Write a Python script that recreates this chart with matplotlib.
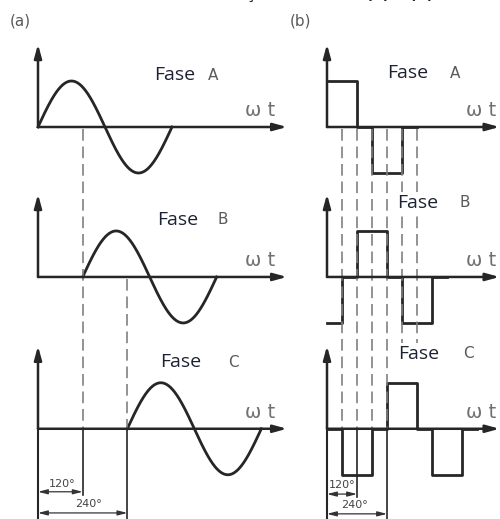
import numpy as np
import matplotlib
matplotlib.use("Agg")
import matplotlib.pyplot as plt

# fases e defasagem (graus)
fases = ["A", "B", "C"]
defasagem = [0, 120, 240]
# onda de seis pulsos da fase A, um nivel a cada 60 graus
seis_pulsos = [1, 1, 0, -1, -1, 0]
passo = 60
# cotas de defasagem
cotas = [120, 240]
cotas_txt = ["120°", "240°"]
# linhas tracejadas de referencia (graus)
tracos_a = [120, 240]
tracos_b = [60, 120, 180, 240, 300, 360]

# linha de base de cada fase (unidades de amplitude)
base = [0.0, -3.26, -6.56]
y_min, y_max = -392 / 46, 127 / 46

cor_linha = "#262626"
cor_traco = "#808080"
cor_txt = "#1c2233"
cor_cinza = "#5a5a5a"

fig = plt.figure(figsize=(5, 5.19), dpi=100)
ax_a = fig.add_axes([0, 0, 1, 1])
ax_b = fig.add_axes([0, 0, 1, 1])
ax_b.patch.set_alpha(0)

# escala horizontal: (a) 134 px por ciclo a partir de x=38, (b) 90 px por ciclo a partir de x=327
ax_a.set_xlim(-38 * 360 / 134, 462 * 360 / 134)
ax_b.set_xlim(-327 * 4, 173 * 4)
for ax in (ax_a, ax_b):
    ax.set_ylim(y_min, y_max)
    ax.axis("off")

seta = dict(arrowstyle="-|>,head_length=0.8,head_width=0.22", mutation_scale=10,
            lw=1.8, color=cor_linha, shrinkA=0, shrinkB=0)
seta_cota = dict(arrowstyle="<|-|>,head_length=0.7,head_width=0.18", mutation_scale=8,
                 lw=0.9, color="#333333", shrinkA=0, shrinkB=0)

def eixos(ax, y0, x_fim, ultimo):
    ax.annotate("", xy=(0, y0 + 1.8), xytext=(0, y0), arrowprops=seta)
    ax.annotate("", xy=(x_fim, y0), xytext=(0, y0), arrowprops=seta)
    if ultimo:
        ax.plot([0, 0], [y0, y_min], color=cor_linha, lw=1.5)

def tracejado(ax, x, y0, y1):
    ax.plot([x, x], [y0, y1], color=cor_traco, lw=1.2, ls=(0, (7, 3.5)))

# ---------- (a) alimentação senoidal ----------
pos_fase_a = [(311, 1.13), (320, 1.24), (328, 1.45)]
pos_letra_a = [470, 497, 524]
for i, (f, phi) in enumerate(zip(fases, defasagem)):
    y0 = base[i]
    eixos(ax_a, y0, 669, i == 2)
    th = np.linspace(phi, phi + 360, 300)
    ax_a.plot(th, y0 + np.sin(np.radians(th - phi)), color=cor_linha, lw=2)
    ax_a.text(pos_fase_a[i][0], y0 + pos_fase_a[i][1], "Fase", fontsize=14,
              family="Open Sans", color=cor_txt, va="center", ha="left")
    ax_a.text(pos_letra_a[i], y0 + pos_fase_a[i][1], f, fontsize=11,
              color=cor_cinza, va="center", ha="center")
    ax_a.text(556, y0 + 0.36, "ω t", fontsize=14, color="#707070",
              va="center", ha="left")

tracejado(ax_a, tracos_a[0], base[0] - 0.05, base[2])
tracejado(ax_a, tracos_a[1], base[1] - 0.05, base[2])

# ---------- (b) alimentação em seis pulsos ----------
pos_fase_b = [(240, 1.17), (280, 1.61), (284, 1.63)]
pos_letra_b = [512, 552, 564]
for i, (f, phi) in enumerate(zip(fases, defasagem)):
    y0 = base[i]
    eixos(ax_b, y0, 690, i == 2)
    xs = list(range(0, phi + 360, passo))
    ys = [seis_pulsos[((x - phi) % 360) // passo] for x in xs]
    xs.append(phi + 360)
    ys.append(ys[-1])
    ax_b.step(xs, [y0 + v for v in ys], where="post", color=cor_linha, lw=2)
    ax_b.text(556, y0 + 0.36, "ω t", fontsize=14, color="#707070",
              va="center", ha="left")

for x in tracos_b:
    tracejado(ax_b, x, base[0] - 0.05, base[2] if x <= 240 else -4.85)

for i, f in enumerate(fases):
    y0 = base[i]
    ax_b.text(pos_fase_b[i][0], y0 + pos_fase_b[i][1], "Fase", fontsize=14,
              family="Open Sans", color=cor_txt, va="center", ha="left",
              bbox=dict(fc="white", ec="none", pad=1.5))
    ax_b.text(pos_letra_b[i], y0 + pos_fase_b[i][1], f, fontsize=11,
              color=cor_cinza, va="center", ha="center",
              bbox=dict(fc="white", ec="none", pad=1.5))

# ---------- cotas de 120° e 240° ----------
cota_a = dict(linha=[-7.93, -8.39], texto=[(66, -7.76), (136, -8.2)], fim=-8.0)
cota_b = dict(linha=[-7.98, -8.41], texto=[(62, -7.78), (112, -8.22)], fim=-8.05)
for ax, c in ((ax_a, cota_a), (ax_b, cota_b)):
    ax.plot([cotas[0], cotas[0]], [base[2], c["fim"]], color=cor_linha, lw=1.2)
    ax.plot([cotas[1], cotas[1]], [base[2], y_min], color=cor_linha, lw=1.2)
    for x, yl, (xt, yt), s in zip(cotas, c["linha"], c["texto"], cotas_txt):
        ax.annotate("", xy=(x, yl), xytext=(0, yl), arrowprops=seta_cota)
        ax.text(xt, yt, s, fontsize=8, color="#444444", ha="center", va="center")

fig.text(0.02, 0.96, "(a)", fontsize=11, color=cor_cinza, va="center")
fig.text(0.58, 0.96, "(b)", fontsize=11, color=cor_cinza, va="center")

# legenda do documento original, cortada no topo
fig.text(0.022, 1 - 1.5 / 519, "Formas de onda de alimentação do motor: (a) e (b)",
         fontsize=10.5, fontweight="bold", color="#222222", va="bottom", ha="left")

fig.savefig("out.png", dpi=100)
